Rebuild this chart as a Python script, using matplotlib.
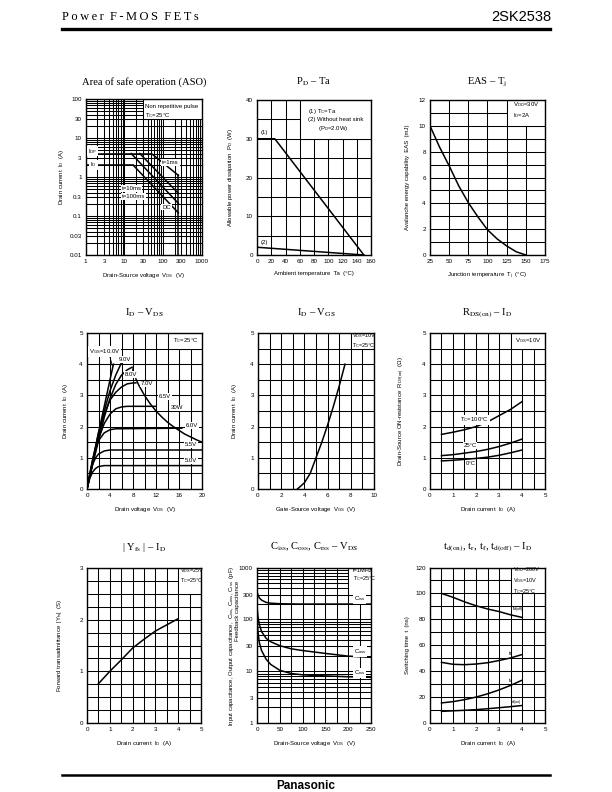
import matplotlib
matplotlib.use('Agg')
import matplotlib.pyplot as plt
from matplotlib.patches import Rectangle
from matplotlib.lines import Line2D

plt.rcParams['font.family'] = ['Liberation Sans', 'DejaVu Sans']
plt.rcParams['mathtext.fontset'] = 'custom'
plt.rcParams['mathtext.rm'] = 'Liberation Sans'
plt.rcParams['mathtext.it'] = 'Liberation Sans:italic'
plt.rcParams['mathtext.bf'] = 'Liberation Sans:bold'

# ---------------- data ----------------
# ASO
aso_idp = 4.0
aso_id = 2.0
aso_vdss = 250
aso_1ms_x = [50, 250];  aso_1ms_y = [4.0, 1.1]
aso_10ms_x = [25, 250]; aso_10ms_y = [4.0, 0.38]
aso_100ms_x = [15, 250]; aso_100ms_y = [4.0, 0.21]
aso_dc_x = [17, 250];   aso_dc_y = [2.0, 0.12]
aso_xticks = [1, 3, 10, 30, 100, 300, 1000]
aso_yticks = [0.01, 0.03, 0.1, 0.3, 1, 3, 10, 30, 100]
aso_ylabels = ['0.01', '0.03', '0.1', '0.3', '1', '3', '10', '30', '100']

# PD - Ta
pd1_ta = [0, 25, 150];  pd1_p = [30, 30, 0]
pd2_ta = [0, 150];      pd2_p = [2.0, 0]

# EAS - Tj
eas_tj = [25, 37.5, 50, 62.5, 75, 87.5, 100, 112.5, 125, 137.5, 150]
eas_e = [10, 8.35, 6.9, 5.35, 4.05, 2.95, 1.95, 1.25, 0.7, 0.25, 0.0]

# ID - VDS
vds_10 = [0, 1, 2, 3, 4, 4.6];           id_10 = [0, 0.9, 1.8, 2.65, 3.5, 4.0]
vds_9 = [0, 1, 2, 3, 4, 5, 6];           id_9 = [0, 0.85, 1.7, 2.5, 3.15, 3.65, 4.05]
vds_8 = [0, 1, 2, 3, 4, 5, 6, 7, 7.8];   id_8 = [0, 0.8, 1.55, 2.3, 2.9, 3.35, 3.65, 3.82, 3.9]
vds_7 = [0, 1, 2, 3, 4, 5, 6, 7, 8, 8.5]; id_7 = [0, 0.95, 1.8, 2.4, 2.85, 3.1, 3.27, 3.37, 3.4, 3.4]
vds_65 = [0, 1, 2, 3, 4, 5, 6, 7, 12];   id_65 = [0, 0.9, 1.6, 2.1, 2.4, 2.57, 2.63, 2.65, 2.65]
vds_60 = [0, 0.5, 1, 1.5, 2, 3, 4, 5, 16.5]; id_60 = [0, 0.5, 0.95, 1.3, 1.55, 1.8, 1.9, 1.93, 1.95]
vds_55 = [0, 0.5, 1, 1.5, 2, 3, 4, 20];  id_55 = [0, 0.45, 0.8, 1.0, 1.12, 1.22, 1.25, 1.25]
vds_50 = [0, 0.5, 1, 1.5, 2, 3, 20];     id_50 = [0, 0.35, 0.55, 0.66, 0.72, 0.75, 0.75]
vds_30w = [8.5, 9, 10, 11, 12, 13, 14, 15, 16, 17, 18, 19, 20]
id_30w = [3.53, 3.33, 3.0, 2.73, 2.5, 2.31, 2.14, 2.0, 1.88, 1.76, 1.67, 1.58, 1.5]

# ID - VGS
vgs = [3.4, 4.0, 4.5, 5.0, 5.5, 6.0, 6.5, 7.0, 7.5]
id_vgs = [0, 0.2, 0.5, 1.0, 1.5, 2.05, 2.65, 3.3, 4.0]

# RDS(on) - ID
rds_id = [0.5, 1, 1.5, 2, 2.5, 3, 3.5, 4]
rds_100 = [1.75, 1.82, 1.9, 2.0, 2.15, 2.35, 2.55, 2.8]
rds_25 = [1.07, 1.1, 1.15, 1.2, 1.27, 1.36, 1.47, 1.6]
rds_0 = [0.9, 0.92, 0.95, 0.98, 1.02, 1.08, 1.16, 1.25]

# |Yfs| - ID
yfs_id = [0.5, 1, 1.5, 2, 2.5, 3, 3.5, 4]
yfs = [0.76, 1.0, 1.22, 1.45, 1.62, 1.78, 1.9, 2.02]

# C - VDS
cap_v = [0, 2, 5, 10, 20, 30, 50, 75, 100, 150, 200, 250]
ciss = [340, 300, 260, 235, 212, 205, 200, 198, 197, 197, 197, 197]
coss = [180, 115, 80, 58, 43, 37, 31, 27, 25, 22, 19.5, 18.5]
crss = [100, 60, 36, 25, 17, 13.5, 10.4, 9.0, 8.5, 8.1, 7.8, 7.6]

# switching times
sw_id = [0.5, 1, 1.5, 2, 2.5, 3, 3.5, 4]
t_doff = [100, 97, 93.5, 90.5, 88, 86, 83.5, 81.5]
t_f = [46.8, 45.3, 45.0, 45.5, 46.5, 48.2, 50.2, 52.8]
t_r = [15.5, 16.5, 18, 20, 22.5, 25.5, 29, 33]
t_don = [9, 9.4, 9.8, 10.3, 11, 11.8, 12.6, 13.5]

# ---------------- figure ----------------
W, H = 612, 792
fig = plt.figure(figsize=(W / 100, H / 100), dpi=100)

TICK_FS = 4.5
LAB_FS = 4.3
TXT_FS = 4.3
LW = 1.1
GLW = 0.75


def add_ax(l, r, t, b):
    return fig.add_axes([l / W, 1 - b / H, (r - l) / W, (b - t) / H])


def style(ax, xlim, ylim, xmaj, xgrid, ymaj, ygrid, xlab, ylab, xlog=False, ylog=False,
          xticklabels=None, yticklabels=None):
    if xlog:
        ax.set_xscale('log')
    if ylog:
        ax.set_yscale('log')
    ax.set_xlim(xlim)
    ax.set_ylim(ylim)
    ax.set_xticks(xmaj)
    ax.set_yticks(ymaj)
    if xticklabels is not None:
        ax.set_xticklabels(xticklabels)
    else:
        ax.set_xticklabels([('%g' % v) for v in xmaj])
    if yticklabels is not None:
        ax.set_yticklabels(yticklabels)
    else:
        ax.set_yticklabels([('%g' % v) for v in ymaj])
    ax.set_xticks(xgrid, minor=True)
    ax.set_yticks(ygrid, minor=True)
    ax.xaxis.set_minor_formatter(plt.NullFormatter())
    ax.yaxis.set_minor_formatter(plt.NullFormatter())
    ax.tick_params(which='both', length=0, labelsize=TICK_FS, pad=3)
    ax.grid(which='both', color='black', lw=GLW)
    ax.set_axisbelow(True)
    for s in ax.spines.values():
        s.set_linewidth(1.0)
    ax.set_xlabel(xlab, fontsize=LAB_FS, labelpad=5)
    ax.set_ylabel(ylab, fontsize=LAB_FS, labelpad=8)


def wbox(ax, x0, y0, x1, y1):
    ax.add_patch(Rectangle((x0, y0), x1 - x0, y1 - y0, facecolor='white',
                           edgecolor='black', lw=GLW, zorder=1))


def title(ax, s, y_px):
    bb = ax.get_position()
    fig.text((bb.x0 + bb.x1) / 2, 1 - y_px / H, s, ha='center', va='center',
             fontsize=7.6, family='Liberation Serif', math_fontfamily='stix')


def lbl(ax, x, y, s, ha='left', bg=True, fs=TXT_FS):
    kw = {}
    if bg:
        kw['bbox'] = dict(facecolor='white', edgecolor='none', pad=0.6)
    ax.text(x, y, s, fontsize=fs, ha=ha, va='center', zorder=4, **kw)


# header / footer
ts = '\u2009'
fig.text(62 / W, 1 - 17 / H, ts.join('Power') + '  ' + ts.join('F-MOS') + '  ' + ts.join('FETs'),
         fontsize=9.0, family=['Liberation Serif', 'DejaVu Serif'], ha='left', va='center')
fig.text(551 / W, 1 - 17 / H, '2SK2538', fontsize=10.5, ha='right', va='center')
fig.add_artist(Line2D([62 / W, 550 / W], [1 - 29 / H, 1 - 29 / H], color='black', lw=2.4))
fig.add_artist(Line2D([62 / W, 550 / W], [1 - 775 / H, 1 - 775 / H], color='black', lw=1.8))
fig.text(306 / W, 1 - 786 / H, 'Panasonic', fontsize=8.5, weight='bold', ha='center', va='center')

# ---- 1. ASO ----
ax = add_ax(85.7, 201.7, 99, 255)
xg = [m * 10 ** e for e in range(0, 3) for m in range(1, 10)] + [1000]
yg = [m * 10.0 ** e for e in range(-2, 2) for m in range(1, 10)] + [100]
style(ax, (1, 1000), (0.01, 100), aso_xticks, xg, aso_yticks, yg,
      r'Drain-Source voltage  V$_\mathrm{DS}$  (V)', r'Drain current  I$_\mathrm{D}$  (A)',
      xlog=True, ylog=True, xticklabels=[str(v) for v in aso_xticks], yticklabels=aso_ylabels)
wbox(ax, 30, 30, 1000, 100)
ax.text(34, 75, 'Non repetitive pulse\nT$_\mathrm{C}$=25°C', fontsize=TXT_FS, va='top',
        linespacing=1.4, zorder=4)
ax.plot([1, aso_1ms_x[0]], [aso_idp, aso_idp], color='k', lw=LW)
ax.plot([1, aso_dc_x[0]], [aso_id, aso_id], color='k', lw=LW)
for xs, ys in [(aso_1ms_x, aso_1ms_y), (aso_10ms_x, aso_10ms_y),
               (aso_100ms_x, aso_100ms_y), (aso_dc_x, aso_dc_y)]:
    ax.plot(xs, ys, color='k', lw=LW)
ax.plot([aso_vdss, aso_vdss], [0.01, aso_1ms_y[1]], color='k', lw=LW)
lbl(ax, 1.12, 4.6, r'I$_\mathrm{DP}$')
lbl(ax, 1.3, 2.05, r'I$_\mathrm{D}$')
lbl(ax, 95, 2.4, 't=1ms')
lbl(ax, 8.5, 0.5, 't=10ms')
lbl(ax, 8.5, 0.32, 't=100ms')
lbl(ax, 95, 0.17, 'DC')
ax.yaxis.set_label_coords(-0.17, 0.5)

# ---- 2. PD - Ta ----
ax = add_ax(257, 371, 100, 255)
style(ax, (0, 160), (0, 40), range(0, 161, 20), range(0, 161, 20), range(0, 41, 10),
      range(0, 41, 5), r'Ambient temperature  Ta  (°C)',
      r'Allowable power dissipation  P$_\mathrm{D}$  (W)')
wbox(ax, 60, 30, 160, 40)
ax.text(71, 34.8, '(1) T$_\mathrm{C}$=Ta\n(2) Without heat sink\n      (P$_\mathrm{D}$=2.0W)',
        fontsize=TXT_FS, va='center', linespacing=1.25, zorder=4, ha='left')
ax.plot(pd1_ta, pd1_p, color='k', lw=LW)
ax.plot(pd2_ta, pd2_p, color='k', lw=LW)
lbl(ax, 5, 31.7, '(1)', bg=False)
lbl(ax, 5, 3.3, '(2)', bg=False)
ax.yaxis.set_label_coords(-0.19, 0.5)

# ---- 3. EAS - Tj ----
ax = add_ax(430, 545, 100, 255)
style(ax, (25, 175), (0, 12), range(25, 176, 25), range(25, 176, 25), range(0, 13, 2),
      range(0, 13, 1), r'Junction temperature  T$_\mathrm{j}$  (°C)',
      r'Avalanche energy capability  EAS  (mJ)')
wbox(ax, 125, 10, 175, 12)
ax.text(133, 11.2, 'V$_\mathrm{DD}$=30V\nI$_\mathrm{D}$=2A', fontsize=TXT_FS, va='center',
        linespacing=1.35, zorder=4)
ax.plot(eas_tj, eas_e, color='k', lw=LW)
ax.yaxis.set_label_coords(-0.17, 0.5)

# ---- 4. ID - VDS ----
ax = add_ax(87, 202, 333, 489)
style(ax, (0, 20), (0, 5), range(0, 21, 4), range(0, 21, 2), range(0, 6, 1),
      [i * 0.5 for i in range(11)], r'Drain voltage  V$_\mathrm{DS}$  (V)',
      r'Drain current  I$_\mathrm{D}$  (A)')
wbox(ax, 14, 4.5, 20, 5)
ax.text(15, 4.75, 'T$_\mathrm{C}$=25°C', fontsize=TXT_FS, va='center', zorder=4)
for xs, ys in [(vds_10, id_10), (vds_9, id_9), (vds_8, id_8), (vds_7, id_7), (vds_65, id_65),
               (vds_60, id_60), (vds_55, id_55), (vds_50, id_50), (vds_30w, id_30w)]:
    ax.plot(xs, ys, color='k', lw=LW)
lbl(ax, 0.3, 4.4, r'V$_\mathrm{GS}$=10.0V')
ax.plot([3.9, 4.4], [4.3, 3.95], color='k', lw=0.6)
lbl(ax, 5.6, 4.15, '9.0V')
lbl(ax, 6.6, 3.66, '8.0V')
ax.plot([7.9, 8.0], [3.78, 3.92], color='k', lw=0.6)
lbl(ax, 9.4, 3.37, '7.0V')
lbl(ax, 12.5, 2.97, '6.5V')
lbl(ax, 14.5, 2.6, '30W')
lbl(ax, 17.2, 2.03, '6.0V')
lbl(ax, 17.0, 1.42, '5.5V')
lbl(ax, 17.0, 0.9, '5.0V')
ax.yaxis.set_label_coords(-0.15, 0.5)

# ---- 5. ID - VGS ----
ax = add_ax(258, 374, 333, 489)
style(ax, (0, 10), (0, 5), range(0, 11, 2), range(0, 11, 1), range(0, 6, 1),
      [i * 0.5 for i in range(11)], r'Gate-Source voltage  V$_\mathrm{GS}$  (V)',
      r'Drain current  I$_\mathrm{D}$  (A)')
wbox(ax, 8, 4.5, 10, 5)
ax.text(8.1, 4.75, 'V$_\mathrm{DS}$=10V\nT$_\mathrm{C}$=25°C', fontsize=TXT_FS - 0.3,
        va='center', linespacing=1.2, zorder=4)
ax.plot(vgs, id_vgs, color='k', lw=LW)
ax.yaxis.set_label_coords(-0.16, 0.5)

# ---- 6. RDS(on) - ID ----
ax = add_ax(430, 545, 333, 489)
style(ax, (0, 5), (0, 5), range(0, 6, 1), [i * 0.5 for i in range(11)], range(0, 6, 1),
      [i * 0.5 for i in range(11)], r'Drain current  I$_\mathrm{D}$  (A)',
      r'Drain-Source ON-resistance  R$_\mathrm{DS(on)}$  ($\Omega$)')
wbox(ax, 3.5, 4.5, 5, 5)
ax.text(3.7, 4.75, 'V$_\mathrm{GS}$=10V', fontsize=TXT_FS, va='center', zorder=4)
for ys in (rds_100, rds_25, rds_0):
    ax.plot(rds_id, ys, color='k', lw=LW)
lbl(ax, 1.3, 2.21, 'T$_\mathrm{C}$=100°C')
lbl(ax, 1.45, 1.39, '25°C')
lbl(ax, 1.55, 0.83, '0°C')
ax.yaxis.set_label_coords(-0.2, 0.5)

# ---- 7. |Yfs| - ID ----
ax = add_ax(87, 201, 568, 723)
style(ax, (0, 5), (0, 3), range(0, 6, 1), [i * 0.5 for i in range(11)], range(0, 4, 1),
      [i * 0.25 for i in range(13)], r'Drain current  I$_\mathrm{D}$  (A)',
      r'Forward transadmittance  |Y$_\mathrm{fs}$|  (S)')
wbox(ax, 4, 2.5, 5, 3)
ax.text(4.08, 2.85, 'V$_\mathrm{DS}$=25V\nT$_\mathrm{C}$=25°C', fontsize=TXT_FS - 0.3,
        va='center', linespacing=1.25, zorder=4)
ax.plot(yfs_id, yfs, color='k', lw=LW)
ax.yaxis.set_label_coords(-0.2, 0.5)

# ---- 8. Capacitances ----
ax = add_ax(257, 371, 567.5, 723)
yg = [m * 10.0 ** e for e in range(0, 3) for m in range(1, 10)] + [1000]
style(ax, (0, 250), (1, 1000), range(0, 251, 50), range(0, 251, 25),
      [1, 3, 10, 30, 100, 300, 1000], yg, r'Drain-Source voltage  V$_\mathrm{DS}$  (V)', '',
      ylog=True, yticklabels=['1', '3', '10', '30', '100', '300', '1000'])
wbox(ax, 200, 300, 250, 1000)
ax.text(211, 700, 'f=1MHz\nT$_\mathrm{C}$=25°C', fontsize=TXT_FS - 0.3, va='center',
        linespacing=1.2, zorder=4)
for ys in (ciss, coss, crss):
    ax.plot(cap_v, ys, color='k', lw=LW)
lbl(ax, 212, 250, 'C$_\mathrm{iss}$')
lbl(ax, 212, 24, 'C$_\mathrm{oss}$')
lbl(ax, 212, 9.3, 'C$_\mathrm{rss}$')
ax.text(-0.22, 0.5, r'Input capacitance, Output capacitance,  C$_\mathrm{iss}$, C$_\mathrm{oss}$, C$_\mathrm{rss}$  (pF)',
        transform=ax.transAxes, rotation=90, fontsize=LAB_FS, ha='center', va='center')
ax.text(-0.17, 0.72, 'Feedback capacitance', transform=ax.transAxes, rotation=90,
        fontsize=LAB_FS, ha='center', va='center')

# ---- 9. Switching ----
ax = add_ax(430, 545, 567.5, 723)
style(ax, (0, 5), (0, 120), range(0, 6, 1), [i * 0.5 for i in range(11)], range(0, 121, 20),
      range(0, 121, 10), r'Drain current  I$_\mathrm{D}$  (A)', r'Switching time  t  (ns)')
wbox(ax, 3.5, 100, 5, 120)
ax.text(3.62, 110, 'V$_\mathrm{DD}$=200V\nV$_\mathrm{GS}$=10V\nT$_\mathrm{C}$=25°C',
        fontsize=TXT_FS - 0.3, va='center', linespacing=1.3, zorder=4)
for ys in (t_doff, t_f, t_r, t_don):
    ax.plot(sw_id, ys, color='k', lw=LW)
lbl(ax, 3.55, 87.6, 't$_\mathrm{d(off)}$', bg=False, fs=TXT_FS - 0.5)
lbl(ax, 3.4, 53.5, 't$_\mathrm{f}$', bg=False, fs=TXT_FS - 0.5)
lbl(ax, 3.4, 33, 't$_\mathrm{r}$', bg=False, fs=TXT_FS - 0.5)
lbl(ax, 3.5, 15.8, 't$_\mathrm{d(on)}$', bg=False, fs=TXT_FS - 0.5)
ax.yaxis.set_label_coords(-0.17, 0.5)

# titles
axs = fig.axes
titles = ['Area of safe operation (ASO)', r'P$_\mathrm{D}$ – Ta', r'EAS – T$_\mathrm{j}$',
          r'I$_\mathrm{D}$ – V$_\mathrm{DS}$', r'I$_\mathrm{D}$ – V$_\mathrm{GS}$',
          r'R$_\mathrm{DS(on)}$ – I$_\mathrm{D}$', r'| Y$_\mathrm{fs}$ | – I$_\mathrm{D}$',
          r'C$_\mathrm{iss}$, C$_\mathrm{oss}$, C$_\mathrm{rss}$ – V$_\mathrm{DS}$',
          r't$_\mathrm{d(on)}$, t$_\mathrm{r}$, t$_\mathrm{f}$, t$_\mathrm{d(off)}$ – I$_\mathrm{D}$']
ty = [82, 82, 82, 313, 313, 313, 547, 547, 547]
for a, s, y in zip(axs, titles, ty):
    title(a, s, y)

fig.savefig('out.png', dpi=100)
